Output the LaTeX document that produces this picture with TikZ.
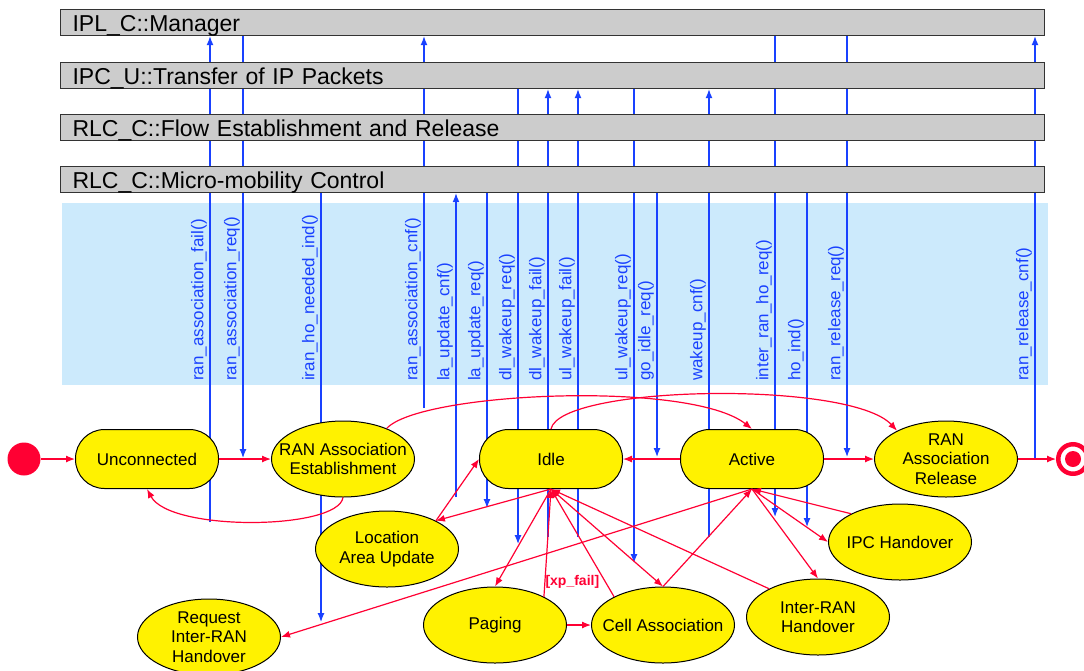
\documentclass[tikz,border=0pt]{standalone}
\usepackage{fontspec}
\setmainfont{Liberation Sans}
\usetikzlibrary{arrows.meta, shapes.geometric, backgrounds}
\definecolor{state red}{RGB}{255,0,51}
\definecolor{signal blue}{RGB}{25,65,255}
\definecolor{lane gray}{RGB}{204,204,204}
\definecolor{zone blue}{RGB}{204,234,252}
\colorlet{state fill}{yellow}
\def\statefont{\fontsize{17}{19.5}\selectfont}
\def\lanefont{\fontsize{23}{26}\selectfont}
\def\sigfont{\fontsize{17}{20}\selectfont}
\tikzset{
  lane/.style={draw=black!80, line width=1.2pt, fill=lane gray, anchor=north west,
    minimum height=26pt, inner xsep=12pt, inner ysep=0pt, text width=960pt,
    align=left, text height=20pt, text depth=2pt, font=\lanefont},
  rstate/.style={draw, line width=1pt, fill=state fill, rounded corners=29pt,
    minimum width=143pt, minimum height=59pt, font=\statefont, align=center},
  estate/.style={ellipse, draw, line width=1pt, fill=state fill, minimum width=143pt,
    minimum height=76pt, inner xsep=-30pt, inner ysep=-8pt, font=\statefont, align=center},
  trans/.style={draw=state red, line width=1.2pt, -{Latex[length=9pt,width=7pt]}},
  signal/.style={draw=signal blue, line width=1.2pt},
  sigup/.style={-{Latex[length=9pt,width=7pt]}},
  sigdown/.style={{Latex[length=9pt,width=7pt]}-},
  siglabel/.style={rotate=90, anchor=south west, inner sep=0pt, text=signal blue, font=\sigfont},
  guard/.style={text=state red, font=\fontsize{14}{16}\selectfont\bfseries, inner sep=0pt, anchor=west}
}

\begin{document}
\begin{tikzpicture}[x=1pt, y=-1pt]
  \useasboundingbox (0,0) rectangle (1084,670);
  % lanes
  \node[lane] (mgr) at (60,9) {IPL\_C::Manager};
  \node[lane] (ipc) at (60,62) {IPC\_U::Transfer of IP Packets};
  \node[lane] (flow) at (60,114) {RLC\_C::Flow Establishment and Release};
  \node[lane] (micro) at (60,166) {RLC\_C::Micro-mobility Control};

  % signals
  \begin{pgfonlayer}{background}
    \fill[zone blue] (62,203) rectangle (1048,385);
    \foreach \x/\yb/\lane/\dir/\txt [count=\i] in {
      210/522/mgr/sigup/ran\_association\_fail(),
      243/458/mgr/sigdown/ran\_association\_req(),
      321/622/micro/sigdown/iran\_ho\_needed\_ind(),
      424/408/mgr/sigup/ran\_association\_cnf(),
      456/497/micro/sigup/la\_update\_cnf(),
      487/508/micro/sigdown/la\_update\_req(),
      518/544/ipc/sigdown/dl\_wakeup\_req(),
      548/537/ipc/sigup/dl\_wakeup\_fail(),
      578/537/ipc/sigup/ul\_wakeup\_fail(),
      634/563/ipc/sigdown/ul\_wakeup\_req(),
      657/457/micro/sigdown/go\_idle\_req(),
      709/537/ipc/sigup/wakeup\_cnf(),
      775/517/mgr/sigdown/inter\_ran\_ho\_req(),
      807/527/micro/sigdown/ho\_ind(),
      847/457/mgr/sigdown/ran\_release\_req(),
      1035/459/mgr/sigup/ran\_release\_cnf()} {
      \coordinate (sig-\i) at (\x,\yb);
      \draw[signal, \dir] (sig-\i) -- (sig-\i |- \lane.south);
      \node[siglabel] (lbl-\i) at ({\x-3},381) {\txt};
    }
  \end{pgfonlayer}

  % states
  \node[circle, fill=state red, minimum size=33pt, inner sep=0pt] (init) at (24,459) {};
  \node[rstate] (uncon) at (147,459) {Unconnected};
  \node[estate] (est) at (343,459) {RAN Association\\Establishment};
  \node[rstate] (idle) at (551,459) {Idle};
  \node[rstate] (active) at (752,459) {Active};
  \node[estate] (rel) at (946,459) {RAN\\Association\\Release};
  \node[circle, draw=state red, line width=4.5pt, fill=white, minimum size=29.5pt, inner sep=0pt,
    path picture={\fill[state red] (path picture bounding box.center) circle (8pt);}] (final) at (1073,459) {};
  \node[estate] (lau) at (387,549) {Location\\Area Update};
  \node[estate] (reqho) at (209,637) {Request\\Inter-RAN\\Handover};
  \node[estate] (paging) at (495,625) {Paging};
  \node[estate] (cell) at (663,625) {Cell Association};
  \node[estate] (interho) at (818,617) {Inter-RAN\\Handover};
  \node[estate] (ipcho) at (900,542) {IPC Handover};

  % transitions
  \draw[trans] (init) -- (uncon);
  \draw[trans] (uncon) -- (est);
  \draw[trans] (est.south) .. controls (338,530) and (170,532) .. (uncon.south);
  \draw[trans] (est.35) .. controls (420,392) and (690,380) .. (active.north);
  \draw[trans] (idle.north) .. controls (560,385) and (850,380) .. (rel.150);
  \draw[trans] (active) -- (idle);
  \draw[trans] (active) -- (rel);
  \draw[trans] (rel) -- (final);
  \draw[trans] (idle.south) -- (lau.30);
  \draw[trans] (lau.30) -- (idle.west);
  \draw[trans] (idle.south) -- (paging.north);
  \draw[trans] (paging.30) -- node[guard, pos=0.14] (xpfail) {[xp\_fail]} (idle.south);
  \draw[trans] (paging) -- (cell);
  \draw[trans] (cell.150) -- (idle.south);
  \draw[trans] (idle.south) -- (cell.north);
  \draw[trans] (cell.north) -- (active.south);
  \draw[trans] (interho.150) -- (idle.south);
  \draw[trans] (active.south) -- (interho.north);
  \draw[trans] (active.south) -- (ipcho.west);
  \draw[trans] (ipcho.150) -- (active.south);
  \draw[trans] (active.south) -- (reqho.east);
\end{tikzpicture}
\end{document}
